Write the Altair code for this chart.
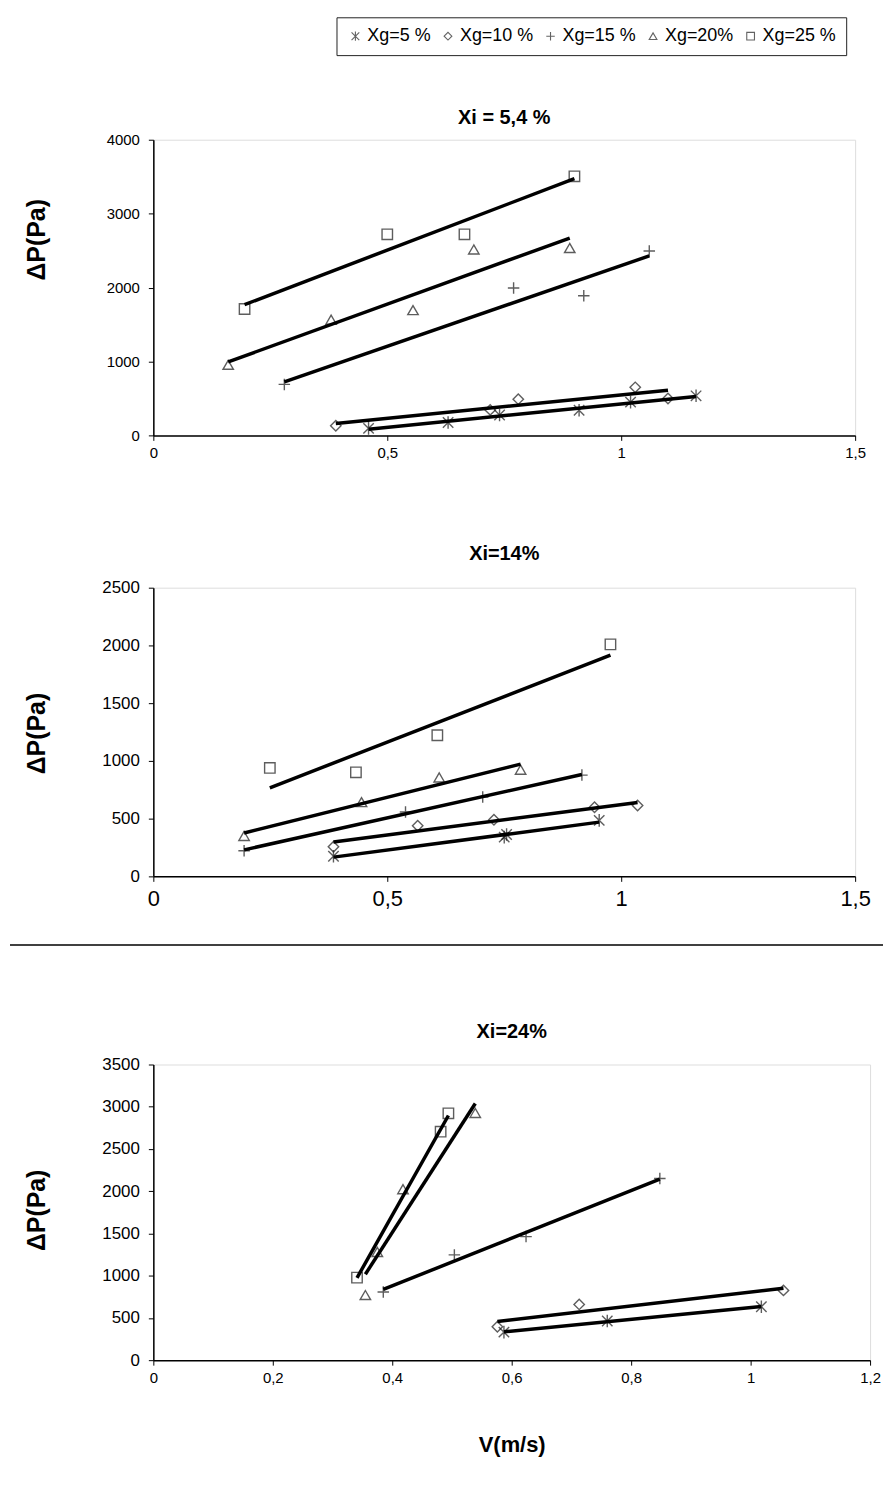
import altair as alt
import pandas as pd

FONT = "Liberation Sans"

series_names = ["Xg=5 %", "Xg=10 %", "Xg=15 %", "Xg=20%", "Xg=25 %"]
shape_paths = [
    "M-1,-1L1,1M-1,1L1,-1M0,-1.2L0,1.2",   # star (asterisk)
    "diamond",
    "M-1.1,0L1.1,0M0,-1.1L0,1.1",          # plus
    "triangle-up",
    "square",
]

# ---- Panel 1 : Xi = 5,4 %
p1_v_xg5 = [0.46, 0.63, 0.74, 0.91, 1.02, 1.16]
p1_dp_xg5 = [95, 175, 275, 340, 450, 535]
p1_v_xg10 = [0.39, 0.72, 0.78, 1.03, 1.10]
p1_dp_xg10 = [130, 345, 490, 650, 500]
p1_v_xg15 = [0.28, 0.77, 0.92, 1.06]
p1_dp_xg15 = [690, 1995, 1890, 2495]
p1_v_xg20 = [0.16, 0.38, 0.555, 0.685, 0.89]
p1_dp_xg20 = [955, 1565, 1695, 2515, 2535]
p1_v_xg25 = [0.195, 0.50, 0.665, 0.90]
p1_dp_xg25 = [1710, 2720, 2720, 3505]

# ---- Panel 2 : Xi = 14 %
p2_v_xg5 = [0.385, 0.75, 0.755, 0.953]
p2_dp_xg5 = [175, 340, 362, 485]
p2_v_xg10 = [0.385, 0.565, 0.728, 0.943, 1.035]
p2_dp_xg10 = [257, 439, 491, 599, 614]
p2_v_xg15 = [0.194, 0.539, 0.704, 0.916]
p2_dp_xg15 = [222, 558, 687, 877]
p2_v_xg20 = [0.194, 0.445, 0.611, 0.785]
p2_dp_xg20 = [350, 643, 857, 924]
p2_v_xg25 = [0.249, 0.433, 0.607, 0.977]
p2_dp_xg25 = [939, 901, 1222, 2009]

# ---- Panel 3 : Xi = 24 %
p3_v_xg5 = [0.587, 0.760, 1.018]
p3_dp_xg5 = [332, 463, 633]
p3_v_xg10 = [0.576, 0.713, 1.055]
p3_dp_xg10 = [395, 660, 826]
p3_v_xg15 = [0.385, 0.504, 0.624, 0.848]
p3_dp_xg15 = [807, 1246, 1463, 2151]
p3_v_xg20 = [0.355, 0.375, 0.418, 0.539]
p3_dp_xg20 = [771, 1281, 2024, 2926]
p3_v_xg25 = [0.341, 0.481, 0.494]
p3_dp_xg25 = [977, 2705, 2922]

p1_xticks = [0, 0.5, 1, 1.5]
p1_yticks = [0, 1000, 2000, 3000, 4000]
p2_xticks = [0, 0.5, 1, 1.5]
p2_yticks = [0, 500, 1000, 1500, 2000, 2500]
p3_xticks = [0, 0.2, 0.4, 0.6, 0.8, 1, 1.2]
p3_yticks = [0, 500, 1000, 1500, 2000, 2500, 3000, 3500]

titles = ["Xi = 5,4 %", "Xi=14%", "Xi=24%"]
y_title = "ΔP(Pa)"
x_title = "V(m/s)"


def build_df(groups):
    rows = []
    for name, (vs, dps) in zip(series_names, groups):
        for v, d in zip(vs, dps):
            rows.append({"series": name, "v": v, "dp": d})
    return pd.DataFrame(rows)


df1 = build_df([(p1_v_xg5, p1_dp_xg5), (p1_v_xg10, p1_dp_xg10), (p1_v_xg15, p1_dp_xg15),
                (p1_v_xg20, p1_dp_xg20), (p1_v_xg25, p1_dp_xg25)])
df2 = build_df([(p2_v_xg5, p2_dp_xg5), (p2_v_xg10, p2_dp_xg10), (p2_v_xg15, p2_dp_xg15),
                (p2_v_xg20, p2_dp_xg20), (p2_v_xg25, p2_dp_xg25)])
df3 = build_df([(p3_v_xg5, p3_dp_xg5), (p3_v_xg10, p3_dp_xg10), (p3_v_xg15, p3_dp_xg15),
                (p3_v_xg20, p3_dp_xg20), (p3_v_xg25, p3_dp_xg25)])

legend = alt.Legend(
    title=None, orient="none", legendX=184, legendY=-123, direction="horizontal",
    strokeColor="#222", fillColor="white", padding=10,
    labelFont=FONT, labelFontSize=18, labelColor="black", labelOffset=3,
    symbolSize=60, symbolStrokeWidth=1.1, symbolStrokeColor="#222",
    symbolFillColor="transparent", columnPadding=8, labelLimit=300,
)


def panel(df, title, title_offset, xticks, yticks, w, h, xlab, ylab, xlab_pad,
          ytitle_y, xaxis_title=None, extra=None):
    xaxis_kw = dict(values=xticks, labelExpr="replace(toString(datum.value), '.', ',')",
                    labelFont=FONT, labelFontSize=xlab, labelColor="black",
                    labelPadding=xlab_pad, tickSize=5, tickColor="black",
                    domainColor="black", domainWidth=1.5, grid=False, labelFlush=False)
    if xaxis_title:
        xaxis_kw.update(title=xaxis_title, titleFont=FONT, titleFontSize=22,
                        titleFontWeight="bold", titleColor="black",
                        titleX=w / 2, titleY=85, titleBaseline="middle")
    else:
        xaxis_kw.update(title=None)
    x = alt.X("v:Q", scale=alt.Scale(domain=[xticks[0], xticks[-1]], nice=False),
              axis=alt.Axis(**xaxis_kw))
    y = alt.Y("dp:Q", scale=alt.Scale(domain=[yticks[0], yticks[-1]], nice=False),
              axis=alt.Axis(values=yticks, format="d", title=y_title, titleFont=FONT,
                            titleFontSize=25, titleFontWeight="bold", titleColor="black",
                            titleX=-117, titleY=ytitle_y, titleAlign="center",
                            titleBaseline="middle", titleAngle=-90,
                            labelFont=FONT, labelFontSize=ylab, labelColor="black",
                            labelPadding=9, tickSize=5, tickColor="black",
                            domainColor="black", domainWidth=1.5, grid=False,
                            labelFlush=False))
    base = alt.Chart(df)
    pts = base.mark_point(filled=False, size=110, strokeWidth=1.4, color="#1a1a1a").encode(
        x=x, y=y,
        shape=alt.Shape("series:N", scale=alt.Scale(domain=series_names, range=shape_paths),
                        legend=legend),
    )
    lines = base.transform_regression("v", "dp", groupby=["series"]).mark_line(
        color="black", strokeWidth=3.5).encode(x=x, y=y, detail="series:N")
    layers = [pts, lines]
    if extra is not None:
        layers.append(extra)
    return alt.layer(*layers).properties(
        width=w, height=h,
        title=alt.TitleParams(title, font=FONT, fontSize=20, fontWeight="bold",
                              color="black", anchor="middle", offset=title_offset),
    )


separator = alt.Chart(alt.Data(values=[{"k": 1}])).mark_rule(
    color="black", strokeWidth=1.5).encode(
    x=alt.value(-144), x2=alt.value(733), y=alt.value(359))

c1 = panel(df1, titles[0], 5, p1_xticks, p1_yticks, 705, 297, 15, 15, 5, 100)
c2 = panel(df2, titles[1], 15, p2_xticks, p2_yticks, 705, 290, 22, 17, 7, 146,
           extra=separator)
c3 = panel(df3, titles[2], 14, p3_xticks, p3_yticks, 720, 297, 15, 17, 5, 146,
           xaxis_title=x_title)

chart = alt.vconcat(alt.vconcat(c1, c2, spacing=82), c3, spacing=74).properties(
    padding={"left": 0, "top": 5, "right": 0, "bottom": 10},
).configure_view(stroke="#808080", strokeWidth=1).configure(background="white")

chart.save("out.html", embed_options={"renderer": "svg", "actions": False})
